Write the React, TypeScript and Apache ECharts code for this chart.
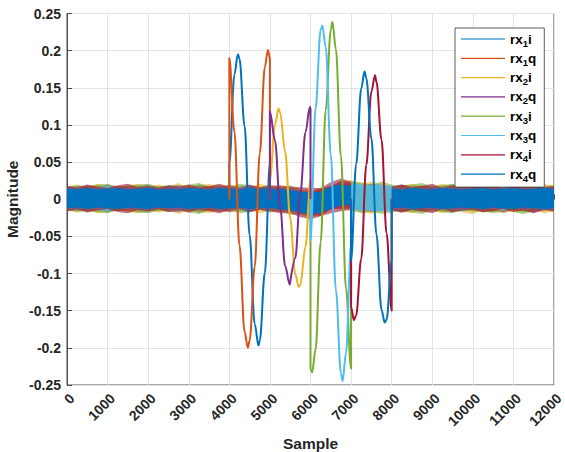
import React, { useEffect, useRef } from "react";
import * as echarts from "echarts";

const FONT = "'Liberation Sans', Arial, Helvetica, sans-serif";

const seriesNames = ["rx1i", "rx1q", "rx2i", "rx2q", "rx3i", "rx3q", "rx4i", "rx4q"];
const seriesColors = ["#0072BD", "#D95319", "#EDB120", "#7E2F8E", "#77AC30", "#4DBEEE", "#A2142F", "#0072BD"];
// opacity of each channel's noise floor (the top-most channel hides the rest)
const noiseOpacity = [0.6, 0.55, 0.6, 0.55, 0.6, 0.85, 0.6, 1];

// Receiver noise floor: sample grid, band centre and per-channel half-width (null while the channel carries its tone burst)
const noiseSamples = [
  0, 250, 500, 750, 1000, 1250, 1500, 1750, 2000, 2250, 2500, 2750, 3000, 3250, 3500, 3750,
  4000, 4250, 4500, 4750, 5000, 5250, 5500, 5750, 6000, 6250, 6500, 6750, 7000, 7250, 7500, 7750,
  8000, 8250, 8500, 8750, 9000, 9250, 9500, 9750, 10000, 10250, 10500, 10750, 11000, 11250, 11500, 11750, 12000,
];
const noiseCenter = [
  0.001, 0.001, 0.001, 0.001, 0.001, 0.001, 0.001, 0.001, 0.001, 0.001, 0.001, 0.001, 0.001, 0.001, 0.001, 0.001,
  0.001, 0.001, 0.001, 0.001, 0.001, 0.0, -0.001, -0.004, -0.006, -0.004, 0.002, 0.006, 0.005, 0.002, 0.002, 0.002,
  0.001, 0.001, 0.001, 0.001, 0.001, 0.001, 0.001, 0.001, 0.001, 0.001, 0.001, 0.001, 0.001, 0.001, 0.001, 0.001, 0.001,
];
const rx1iNoise = [
  0.013, 0.012, 0.013, 0.012, 0.013, 0.012, 0.013, 0.012, 0.013, 0.012, 0.013, 0.012, 0.013, 0.012, 0.013, 0.012,
  0.013, null, null, null, 0.013, 0.012, 0.013, 0.012, 0.013, 0.012, 0.013, 0.012, 0.013, 0.012, 0.013, 0.012,
  0.013, 0.012, 0.013, 0.012, 0.013, 0.012, 0.013, 0.012, 0.013, 0.012, 0.013, 0.012, 0.013, 0.012, 0.013, 0.012, 0.013,
];
const rx1qNoise = [
  0.015, 0.017, 0.014, 0.016, 0.015, 0.017, 0.016, 0.014, 0.016, 0.017, 0.015, 0.014, 0.017, 0.015, 0.016, 0.014,
  0.016, null, null, null, 0.015, 0.017, 0.014, 0.016, 0.015, 0.017, 0.016, 0.014, 0.016, 0.015, 0.017, 0.016,
  0.015, 0.014, 0.017, 0.016, 0.015, 0.014, 0.016, 0.017, 0.015, 0.016, 0.014, 0.017, 0.015, 0.016, 0.014, 0.017, 0.015,
];
const rx2iNoise = [
  0.016, 0.019, 0.015, 0.020, 0.017, 0.014, 0.018, 0.020, 0.015, 0.019, 0.016, 0.021, 0.015, 0.018, 0.020, 0.016,
  0.019, 0.017, 0.015, 0.020, 0.017, null, null, null, 0.017, 0.019, 0.016, 0.018, 0.021, 0.019, 0.022, 0.018,
  0.016, 0.018, 0.020, 0.015, 0.017, 0.020, 0.016, 0.019, 0.021, 0.015, 0.018, 0.020, 0.016, 0.019, 0.015, 0.020, 0.017,
];
const rx2qNoise = [
  0.017, 0.014, 0.018, 0.015, 0.019, 0.016, 0.014, 0.017, 0.019, 0.015, 0.017, 0.018, 0.014, 0.019, 0.016, 0.015,
  0.018, 0.016, 0.019, 0.015, 0.017, null, null, null, 0.016, 0.018, 0.015, 0.019, 0.017, 0.016, 0.019, 0.017,
  0.015, 0.019, 0.016, 0.018, 0.014, 0.017, 0.019, 0.016, 0.015, 0.018, 0.016, 0.019, 0.015, 0.017, 0.019, 0.016, 0.015,
];
const rx3iNoise = [
  0.015, 0.018, 0.016, 0.019, 0.020, 0.015, 0.017, 0.019, 0.020, 0.016, 0.018, 0.015, 0.019, 0.021, 0.016, 0.018,
  0.015, 0.020, 0.018, 0.015, 0.019, 0.016, 0.020, 0.017, 0.018, null, null, null, 0.019, 0.021, 0.018, 0.022,
  0.019, 0.016, 0.019, 0.021, 0.016, 0.018, 0.020, 0.015, 0.018, 0.017, 0.020, 0.016, 0.018, 0.021, 0.017, 0.015, 0.019,
];
const rx3qNoise = [
  0.014, 0.016, 0.013, 0.015, 0.017, 0.013, 0.015, 0.014, 0.016, 0.013, 0.015, 0.017, 0.014, 0.015, 0.013, 0.016,
  0.014, 0.015, 0.017, 0.014, 0.015, 0.013, 0.016, 0.014, 0.015, null, null, null, 0.017, 0.018, 0.017, 0.018,
  0.017, 0.014, 0.015, 0.013, 0.016, 0.014, 0.015, 0.017, 0.013, 0.015, 0.014, 0.016, 0.013, 0.015, 0.014, 0.016, 0.014,
];
const rx4iNoise = [
  0.017, 0.015, 0.019, 0.016, 0.014, 0.018, 0.020, 0.015, 0.017, 0.014, 0.018, 0.016, 0.019, 0.015, 0.017, 0.020,
  0.016, 0.014, 0.018, 0.015, 0.017, 0.019, 0.018, 0.020, 0.021, 0.019, 0.021, 0.022, 0.019, null, null, null,
  0.016, 0.019, 0.015, 0.017, 0.020, 0.014, 0.018, 0.016, 0.015, 0.019, 0.017, 0.014, 0.018, 0.016, 0.020, 0.015, 0.017,
];
const rx4qNoise = [
  0.013, 0.012, 0.014, 0.012, 0.013, 0.014, 0.012, 0.013, 0.014, 0.012, 0.013, 0.012, 0.014, 0.013, 0.012, 0.014,
  0.013, 0.012, 0.014, 0.013, 0.012, 0.014, 0.013, 0.014, 0.015, 0.014, 0.015, 0.014, 0.013, null, null, null,
  0.013, 0.012, 0.014, 0.013, 0.012, 0.014, 0.013, 0.012, 0.013, 0.014, 0.012, 0.013, 0.014, 0.012, 0.013, 0.014, 0.013,
];

// Tone bursts: [sample, magnitude]
const rx1iBurst = [
  [4000, 0], [4000, 0.048], [4125, 0.168], [4210, 0.195], [4250, 0.189], [4375, 0.099], [4500, -0.048],
  [4625, -0.168], [4720, -0.197], [4750, -0.19], [4875, -0.099], [5000, 0.048], [5000, 0],
];
const rx1qBurst = [
  [4000, 0], [4000, 0.19], [4125, 0.091], [4250, -0.062], [4375, -0.178], [4455, -0.2], [4500, -0.19],
  [4625, -0.091], [4750, 0.062], [4875, 0.178], [4950, 0.201], [5000, 0.19], [5000, 0],
];
const rx2iBurst = [
  [5000, 0], [5000, 0.026], [5125, 0.101], [5215, 0.122], [5250, 0.117], [5375, 0.064], [5500, -0.026],
  [5625, -0.101], [5710, -0.118], [5750, -0.115], [5875, -0.064], [6000, 0.026], [6000, 0],
];
const rx2qBurst = [
  [5000, 0], [5000, 0.118], [5125, 0.079], [5250, -0.008], [5375, -0.09], [5490, -0.115], [5500, -0.115],
  [5625, -0.079], [5750, 0.008], [5875, 0.09], [5985, 0.124], [6000, 0.122], [6000, 0],
];
const rx3iBurst = [
  [6000, 0], [6000, -0.228], [6040, -0.233], [6125, -0.202], [6250, -0.058], [6375, 0.12], [6500, 0.228],
  [6540, 0.239], [6625, 0.202], [6750, 0.058], [6875, -0.12], [7000, -0.228], [7000, 0],
];
const rx3qBurst = [
  [6000, 0], [6000, -0.055], [6125, 0.122], [6250, 0.228], [6290, 0.234], [6375, 0.205], [6500, 0.06],
  [6625, -0.122], [6750, -0.234], [6790, -0.245], [6875, -0.207], [7000, -0.06], [7000, 0],
];
const rx4iBurst = [
  [7000, 0], [7000, -0.145], [7070, -0.163], [7125, -0.156], [7250, -0.08], [7375, 0.046], [7500, 0.145],
  [7590, 0.167], [7625, 0.158], [7750, 0.08], [7875, -0.046], [8000, -0.15], [8000, 0],
];
const rx4qBurst = [
  [7000, 0], [7000, -0.082], [7125, 0.047], [7250, 0.149], [7330, 0.172], [7375, 0.163], [7500, 0.082],
  [7625, -0.047], [7750, -0.149], [7830, -0.166], [7875, -0.162], [8000, -0.082], [8000, 0],
];

const noiseBands = [rx1iNoise, rx1qNoise, rx2iNoise, rx2qNoise, rx3iNoise, rx3qNoise, rx4iNoise, rx4qNoise];
const bursts = [rx1iBurst, rx1qBurst, rx2iBurst, rx2qBurst, rx3iBurst, rx3qBurst, rx4iBurst, rx4qBurst];

function bandRenderer(half: (number | null)[], color: string, opacity: number) {
  return (_params: any, api: any) => {
    const children: any[] = [];
    let seg: number[] = [];
    const flush = () => {
      if (seg.length > 1) {
        const upper = seg.map((i) => api.coord([noiseSamples[i], noiseCenter[i] + (half[i] as number)]));
        const lower = seg
          .map((i) => api.coord([noiseSamples[i], noiseCenter[i] - (half[i] as number)]))
          .reverse();
        children.push({
          type: "polygon",
          shape: { points: upper.concat(lower) },
          style: { fill: color, opacity },
        });
      }
      seg = [];
    };
    half.forEach((h, i) => {
      if (h == null) flush();
      else seg.push(i);
    });
    flush();
    return { type: "group", children };
  };
}

export default function App() {
  const ref = useRef<HTMLDivElement>(null);

  useEffect(() => {
    if (!ref.current) return;
    const chart = echarts.init(ref.current, undefined, { renderer: "svg" });

    const series: any[] = [];
    seriesNames.forEach((name, k) => {
      series.push({
        type: "custom",
        name: name + " noise",
        coordinateSystem: "cartesian2d",
        data: [[0, 0]],
        renderItem: bandRenderer(noiseBands[k], seriesColors[k], noiseOpacity[k]),
        silent: true,
        clip: true,
      });
      series.push({
        type: "line",
        name,
        data: bursts[k],
        showSymbol: false,
        smooth: 0.35,
        smoothMonotone: "x",
        color: seriesColors[k],
        lineStyle: { width: 2, color: seriesColors[k] },
        silent: true,
        clip: true,
      });
    });

    const axisText = { color: "#262626", fontFamily: FONT, fontWeight: "bold", fontSize: 14 };

    chart.setOption({
      animation: false,
      backgroundColor: "#ffffff",
      grid: {
        left: 67,
        right: 11,
        top: 13.5,
        bottom: 67,
        show: true,
        borderColor: "#4d4d4d",
        borderWidth: 1,
        backgroundColor: "transparent",
        outerBoundsMode: "none",
      },
      legend: {
        data: seriesNames,
        orient: "vertical",
        left: 455,
        top: 28,
        icon: "rect",
        itemWidth: 44,
        itemHeight: 1.2,
        itemGap: 3.3,
        padding: [4, 8, 4, 6],
        borderColor: "#333333",
        borderWidth: 0.8,
        borderRadius: 0,
        backgroundColor: "#ffffff",
        formatter: (name: string) => `{a|rx}{s|${name.charAt(2)}}{a|${name.charAt(3)}}`,
        textStyle: {
          fontFamily: FONT,
          rich: {
            a: { fontFamily: FONT, fontWeight: "bold", fontSize: 13.5, color: "#000", lineHeight: 18, verticalAlign: "middle" },
            s: { fontFamily: FONT, fontWeight: "bold", fontSize: 9.5, color: "#000", lineHeight: 10, verticalAlign: "bottom" },
          },
        },
      },
      xAxis: {
        type: "value",
        min: 0,
        max: 12000,
        interval: 1000,
        name: "Sample",
        nameLocation: "middle",
        nameGap: 50,
        nameMoveOverlap: false,
        nameTextStyle: { ...axisText, fontSize: 15.5 },
        axisLine: { show: true, lineStyle: { color: "#4d4d4d", width: 1 } },
        axisTick: { show: true, inside: true, length: 5, lineStyle: { color: "#4d4d4d" } },
        axisLabel: { ...axisText, rotate: 45, margin: 6, verticalAlign: "top", formatter: (v: number) => String(v) },
        splitLine: { show: true, lineStyle: { color: "#e3e3e3", width: 1 } },
      },
      yAxis: {
        type: "value",
        min: -0.25,
        max: 0.25,
        interval: 0.05,
        name: "Magnitude",
        nameLocation: "middle",
        nameGap: 47,
        nameMoveOverlap: false,
        nameTextStyle: { ...axisText, fontSize: 15.5 },
        axisLine: { show: true, lineStyle: { color: "#4d4d4d", width: 1 } },
        axisTick: { show: true, inside: true, length: 5, lineStyle: { color: "#4d4d4d" } },
        axisLabel: { ...axisText, margin: 6, formatter: (v: number) => String(+v.toFixed(2)) },
        splitLine: { show: true, lineStyle: { color: "#e3e3e3", width: 1 } },
      },
      series,
    });

    return () => chart.dispose();
  }, []);

  return (
    <div
      ref={ref}
      style={{ position: "fixed", left: 0, top: 0, width: 565, height: 452, background: "#fff" }}
    />
  );
}
